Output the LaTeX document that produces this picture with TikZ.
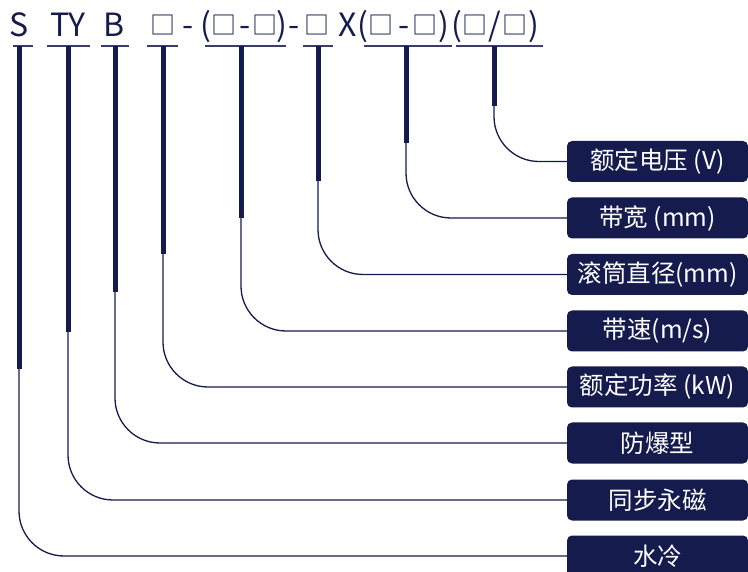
\documentclass[tikz,border=0pt]{standalone}
\usepackage{fontspec}
\setmainfont{Noto Sans CJK SC}
\definecolor{navy}{RGB}{21,28,77}
\begin{document}
\begin{tikzpicture}[x=1pt,y=-1pt,
  tok/.style={inner sep=0pt, anchor=base, text=navy, font=\fontsize{32}{32}\selectfont},
  sq/.style={inner sep=0pt, anchor=center, text=navy, font=\fontsize{25}{25}\selectfont},
  lbl/.style={fill=navy, text=white, rounded corners=5pt, minimum width=181pt, minimum height=41pt, inner sep=0pt, font=\fontsize{24.5}{24.5}\selectfont},
  uline/.style={draw=navy!85, line width=1.3pt},
  bar/.style={draw=navy, line width=5pt},
  lead/.style={draw=navy, line width=1.3pt, rounded corners=45pt}]
\useasboundingbox (0,0) rectangle (748,572);
% top code
\node[tok] (tS) at (19,37) {S};
\node[tok] (tTY) at (68,37) {TY};
\node[tok] (tB) at (114.5,37) {B};
\node[sq] (q1) at (163,25.5) {□};
\node[tok] (d1) at (188,37) {-};
\node[tok] (p1) at (206,37) {(};
\node[sq] (q2) at (224,25.5) {□};
\node[tok] (d2) at (245,37) {-};
\node[sq] (q3) at (265,25.5) {□};
\node[tok] (p2) at (282,37) {)};
\node[tok] (d3) at (294.5,37) {-};
\node[sq] (q4) at (317,25.5) {□};
\node[tok] (tX) at (347.5,37) {X};
\node[tok] (p3) at (363,37) {(};
\node[sq] (q5) at (381,25.5) {□};
\node[tok] (d4) at (404,37) {-};
\node[sq] (q6) at (425,25.5) {□};
\node[tok] (p4) at (444,37) {)};
\node[tok] (p5) at (456.5,37) {(};
\node[sq] (q7) at (475,25.5) {□};
\node[tok] (sl) at (495,37) {/};
\node[sq] (q8) at (515,25.5) {□};
\node[tok] (p6) at (534,37) {)};
% underlines
\foreach \a/\c in {13/33,47/90,101/129,147/178,205/286,303/333,364/452,456/543}
  \draw[uline] (\a,46) -- (\c,46);
% labels
\node[lbl] (b1) at (657.5,161.5) {额定电压 (V)};
\node[lbl] (b2) at (657.5,218) {带宽 (mm)};
\node[lbl] (b3) at (657.5,274.5) {滚筒直径(mm)};
\node[lbl] (b4) at (657.5,331) {带速(m/s)};
\node[lbl] (b5) at (657.5,387) {额定功率 (kW)};
\node[lbl] (b6) at (657.5,443) {防爆型};
\node[lbl] (b7) at (657.5,500) {同步永磁};
\node[lbl] (b8) at (657.5,556) {水冷};
% leads
\foreach \x/\e/\b [count=\i] in {19/369/b8,68/332/b7,115/292/b6,163/254/b5,241/218/b4,318/181/b3,406/143/b2,494/106/b1}{
  \coordinate (top\i) at (\x,46);
  \coordinate (end\i) at (\x,\e);
  \draw[bar] (top\i) -- (end\i);
  \draw[lead] (end\i) |- (\b.west);
}
\end{tikzpicture}
\end{document}
